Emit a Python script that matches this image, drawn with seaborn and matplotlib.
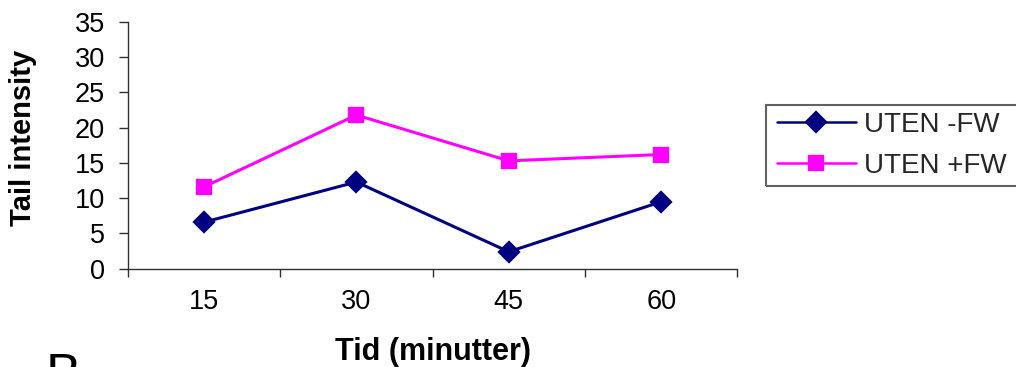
import matplotlib
matplotlib.use("Agg")
import matplotlib.pyplot as plt
import seaborn as sns
import pandas as pd
from matplotlib.patches import Rectangle

# ---- data ----
times = ["15", "30", "45", "60"]
series_names = ["UTEN -FW", "UTEN +FW"]
uten_minus_fw = [6.6, 12.3, 2.4, 9.5]
uten_plus_fw = [11.6, 21.8, 15.3, 16.2]
y_ticks = [0, 5, 10, 15, 20, 25, 30, 35]

df = pd.DataFrame({
    "Tid": times * 2,
    "value": uten_minus_fw + uten_plus_fw,
    "series": [series_names[0]] * len(times) + [series_names[1]] * len(times),
})

sns.set_theme(style="white")
plt.rcParams["font.family"] = ["Liberation Sans", "DejaVu Sans"]

W, H = 1016, 367
fig = plt.figure(figsize=(W / 100, H / 100), dpi=100)
ax_l, ax_r, ax_t, ax_b = 127.7, 737.5, 22.0, 268.7
ax = fig.add_axes([ax_l / W, 1 - ax_b / H, (ax_r - ax_l) / W, (ax_b - ax_t) / H])

palette = {series_names[0]: "#000080", series_names[1]: "#FF00FF"}
sns.pointplot(data=df, x="Tid", y="value", hue="series", order=times,
              hue_order=series_names, palette=palette, markers=["D", "s"],
              linestyles=["-", "-"], errorbar=None, ax=ax,
              markersize=10, linewidth=2.2)

ax.set_xlim(-0.5, len(times) - 0.5)
ax.set_ylim(0, 35)
ax.set_yticks(y_ticks)
ax.set_xticks(range(len(times)))
ax.set_xticklabels(times)
ax.set_xticks([i - 0.5 for i in range(len(times) + 1)], minor=True)

for s in ["top", "right"]:
    ax.spines[s].set_visible(False)
for s in ["left", "bottom"]:
    ax.spines[s].set_color("#303030")
    ax.spines[s].set_linewidth(1.0)

ax.tick_params(axis="x", which="major", length=0, pad=14.5, labelsize=19.5, labelcolor="black")
ax.tick_params(axis="x", which="minor", length=6, width=1.0, color="#303030", direction="out", bottom=True)
ax.tick_params(axis="y", which="major", length=6.8, width=1.0, color="#303030", direction="out",
               pad=9.5, labelsize=19.5, labelcolor="black", left=True)

ax.set_xlabel("Tid (minutter)", fontsize=22, fontweight="bold", color="black")
ax.xaxis.label.set_verticalalignment("baseline")
ax.xaxis.set_label_coords(0.5, -(360 - ax_b) / (ax_b - ax_t))

ax.set_ylabel("Tail intensity", fontsize=21, fontweight="bold", color="black")
ax.yaxis.label.set_verticalalignment("center")
ax.yaxis.set_label_coords((23 - ax_l) / (ax_r - ax_l), 0.53)

# legend
handles, labels = ax.get_legend_handles_labels()
if ax.get_legend() is not None:
    ax.get_legend().remove()
leg = fig.legend(handles, labels, loc="center left",
                 bbox_to_anchor=(774 / W, 1 - 145.5 / H), bbox_transform=fig.transFigure,
                 frameon=False, fontsize=20, handlelength=2.85, handletextpad=0.3,
                 labelspacing=0.55, borderpad=0.1, borderaxespad=0.0)
for h in leg.legend_handles:
    try:
        h.set_linewidth(1.8)
    except Exception:
        pass
fig.patches.append(Rectangle((766 / W, 1 - 186 / H), (1030 - 766) / W, (186 - 105) / H,
                             transform=fig.transFigure, fill=False, edgecolor="#606060",
                             linewidth=1.5, figure=fig))

# partially visible panel letter at the bottom edge (cut off in the reference too)
fig.text(46 / W, 1 - 352 / H, "B", fontsize=38, va="top", ha="left", color="black")

fig.savefig("out.png", dpi=100)
